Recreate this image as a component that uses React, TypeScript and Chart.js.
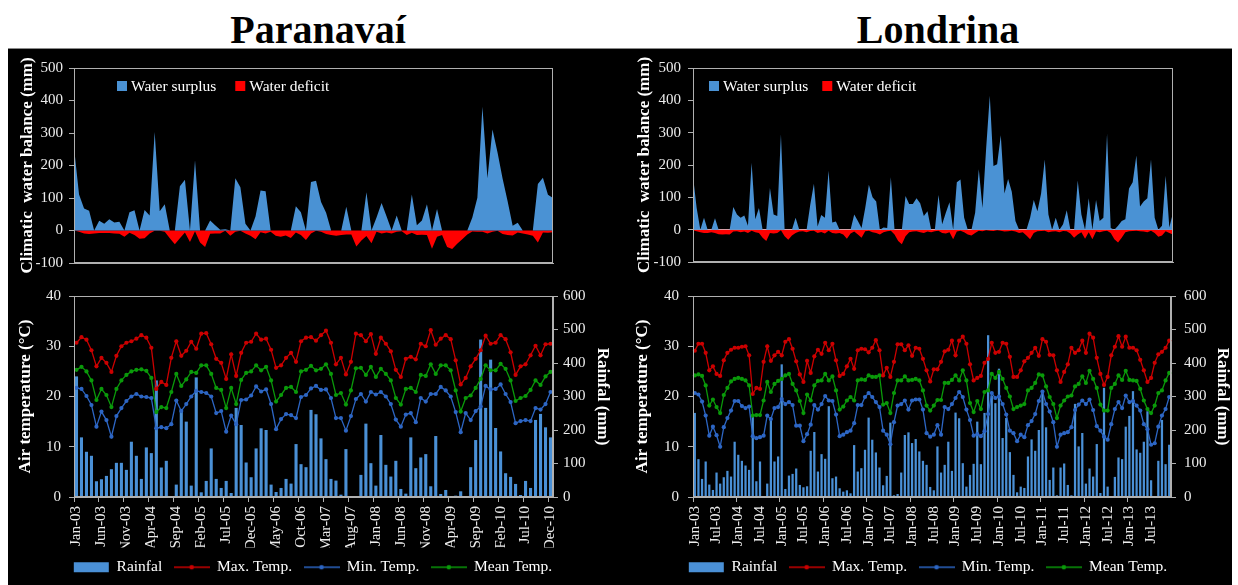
import React, { useEffect, useRef } from 'react';
import { Chart, registerables } from 'chart.js';

Chart.register(...registerables);

const FONT = '"Liberation Serif", "Times New Roman", serif';
Chart.defaults.font.family = FONT;

// ---------- categories ----------
const MONTH_NAMES = ['Jan', 'Feb', 'Mar', 'Apr', 'May', 'Jun', 'Jul', 'Aug', 'Sep', 'Oct', 'Nov', 'Dec'];
const monthSeries = (n: number) =>
  Array.from({ length: n }, (_, i) => `${MONTH_NAMES[i % 12]}-${String(3 + Math.floor(i / 12)).padStart(2, '0')}`);

const PAR_CATEGORIES = monthSeries(96);
const LON_CATEGORIES = monthSeries(132);

const PAR_TICK_LABELS = ['Jan-03', 'Jun-03', 'Nov-03', 'Apr-04', 'Sep-04', 'Feb-05', 'Jul-05', 'Dec-05', 'May-06', 'Oct-06',
  'Mar-07', 'Aug-07', 'Jan-08', 'Jun-08', 'Nov-08', 'Apr-09', 'Sep-09', 'Feb-10', 'Jul-10', 'Dec-10'];
const LON_TICK_LABELS = ['Jan-03', 'Jul-03', 'Jan-04', 'Jul-04', 'Jan-05', 'Jul-05', 'Jan-06', 'Jul-06', 'Jan-07', 'Jul-07',
  'Jan-08', 'Jul-08', 'Jan-09', 'Jul-09', 'Jan-10', 'Jul-10', 'Jan-11', 'Jul-11', 'Jan-12', 'Jul-12', 'Jan-13', 'Jul-13'];

// ---------- Paranavaí ----------
const PAR_SURPLUS = [256, 111, 68, 61, 0, 30, 21, 35, 25, 27, 0, 56,
  62, 0, 63, 46, 303, 59, 81, 0, 0, 136, 156, 0,
  216, 0, 0, 31, 16, 2, 4, 0, 161, 133, 21, 0,
  43, 123, 121, 0, 0, 0, 0, 0, 75, 56, 0, 149,
  153, 88, 55, 0, 0, 0, 73, 0, 0, 0, 118, 0,
  40, 85, 43, 0, 46, 0, 0, 111, 16, 31, 81, 0,
  66, 0, 0, 0, 0, 0, 0, 40, 101, 381, 161, 311,
  240, 160, 90, 15, 24, 0, 0, 0, 143, 162, 110, 100];
const PAR_DEFICIT = [0, -4, -9, -11, -9, -8, -8, -8, -9, -10, -19, -7,
  -14, -25, -24, -9, -1, -1, -4, -24, -42, -24, -6, -35,
  -2, -37, -51, -10, -9, -9, -1, -16, -4, -1, -9, -16,
  -27, -5, -9, -4, -16, -19, -15, -23, -6, -14, -29, -9,
  -1, -4, -11, -14, -16, -14, -12, -12, -49, -31, -17, -39,
  -4, -9, -6, -9, -4, -2, -14, -7, -14, -13, -14, -56,
  -19, -14, -51, -57, -41, -27, -12, -3, -4, -4, -9, -4,
  -1, -11, -14, -15, -6, -9, -12, -16, -37, -6, -7, -5];
const PAR_RAIN = [360, 178, 135, 123, 47, 53, 63, 83, 102, 102, 81, 165,
  123, 54, 148, 131, 348, 88, 108, 1, 37, 263, 225, 34,
  357, 14, 48, 145, 54, 27, 48, 12, 266, 215, 103, 59,
  145, 205, 200, 37, 15, 27, 54, 40, 158, 98, 89, 260,
  247, 175, 113, 54, 49, 7, 143, 0, 0, 66, 219, 101,
  34, 185, 96, 61, 108, 24, 10, 178, 86, 118, 128, 32,
  182, 9, 21, 3, 4, 17, 2, 89, 170, 470, 266, 410,
  206, 136, 71, 60, 39, 6, 48, 27, 230, 248, 208, 178];
const PAR_TMAX = [30.7, 31.8, 31.3, 29.2, 26.0, 27.7, 26.7, 24.9, 28.1, 30.0, 30.7, 31.0,
  31.5, 32.2, 31.7, 29.7, 21.5, 22.9, 22.3, 27.7, 31.0, 28.1, 29.1, 30.9,
  29.5, 32.5, 32.6, 30.4, 27.5, 26.7, 23.5, 28.4, 24.1, 28.7, 30.7, 30.9,
  32.5, 31.3, 31.5, 29.3, 25.7, 26.2, 27.7, 28.7, 26.9, 31.0, 31.7, 31.8,
  31.1, 32.2, 33.1, 30.7, 26.4, 27.7, 24.4, 26.9, 32.5, 32.2, 31.0, 32.4,
  28.5, 31.7, 30.5, 29.0, 25.3, 23.9, 27.5, 27.9, 27.4, 30.5, 30.0, 33.2,
  30.3, 31.5, 32.2, 31.4, 27.2, 22.4, 23.7, 26.0, 27.5, 29.2, 32.1, 30.5,
  30.7, 32.2, 31.4, 28.8, 24.3, 26.0, 26.4, 28.2, 30.1, 28.2, 30.4, 30.5];
const PAR_TMIN = [21.7, 21.5, 20.1, 18.3, 14.0, 17.0, 15.3, 12.0, 16.1, 17.7, 19.1, 20.0,
  20.5, 20.0, 19.9, 19.7, 13.7, 13.9, 13.7, 14.5, 19.2, 17.1, 18.5, 20.0,
  21.1, 20.9, 20.7, 20.0, 16.7, 17.1, 13.0, 16.2, 14.5, 19.3, 19.4, 20.2,
  22.0, 21.0, 21.4, 18.5, 13.5, 15.5, 16.5, 16.3, 15.7, 19.9, 20.3, 21.6,
  22.1, 21.3, 21.4, 19.7, 15.7, 15.7, 13.2, 16.1, 19.5, 20.5, 19.0, 20.9,
  20.4, 20.9, 20.0, 18.5, 15.4, 14.0, 16.4, 16.7, 14.9, 19.7, 19.0, 20.5,
  20.5, 21.9, 21.2, 20.0, 16.9, 12.9, 16.7, 15.3, 17.1, 18.0, 22.1, 21.4,
  21.5, 22.4, 20.5, 18.9, 14.7, 15.1, 15.3, 15.1, 17.7, 17.4, 18.5, 20.9];
const PAR_TMEAN = [25.3, 25.9, 25.0, 23.2, 19.3, 21.5, 20.3, 17.9, 21.5, 23.2, 24.3, 25.0,
  25.3, 25.4, 25.1, 23.7, 16.9, 17.9, 17.7, 20.9, 24.5, 22.1, 23.4, 24.9,
  24.7, 26.2, 26.2, 24.5, 21.7, 21.3, 17.7, 21.7, 18.5, 23.3, 24.7, 25.0,
  26.2, 25.2, 25.9, 23.2, 19.0, 20.3, 21.7, 21.9, 20.9, 25.0, 25.3, 26.1,
  25.2, 25.5, 26.4, 24.5, 20.3, 20.7, 18.4, 21.2, 25.6, 25.7, 24.3, 25.9,
  23.9, 25.5, 24.5, 23.2, 19.7, 18.4, 21.5, 21.7, 20.9, 24.3, 24.1, 26.4,
  24.5, 26.2, 26.2, 25.2, 21.2, 17.0, 19.7, 20.2, 21.7, 23.5, 26.2, 25.2,
  25.2, 26.5, 25.5, 23.2, 19.1, 19.7, 20.1, 21.3, 23.2, 22.3, 24.0, 24.9];

// ---------- Londrina ----------
const LON_SURPLUS = [165, 67, 0, 37, 0, 0, 35, 0, 0, 0, 0, 70,
  47, 37, 44, 12, 207, 32, 67, 0, 0, 129, 47, 42,
  295, 0, 0, 0, 37, 0, 0, 0, 77, 142, 10, 45,
  37, 182, 22, 25, 0, 0, 0, 0, 47, 27, 5, 67,
  139, 100, 87, 0, 7, 5, 162, 0, 0, 0, 104, 79,
  79, 97, 82, 42, 57, 0, 0, 107, 17, 52, 85, 0,
  147, 155, 37, 0, 0, 52, 187, 67, 250, 414, 197, 202,
  292, 112, 157, 117, 27, 0, 0, 0, 37, 92, 57, 112,
  217, 47, 0, 37, 0, 17, 60, 0, 0, 152, 47, 0,
  97, 0, 92, 27, 37, 297, 5, 0, 12, 27, 32, 127,
  147, 229, 72, 87, 97, 217, 37, 0, 12, 167, 7, 52];
const LON_DEFICIT = [-2, -5, -8, -10, -10, -8, -10, -14, -15, -14, -15, -6,
  -5, -8, -6, -10, -3, -8, -10, -25, -35, -10, -12, -10,
  -2, -20, -31, -18, -10, -6, -5, -8, -4, -3, -10, -7,
  -12, -3, -10, -12, -10, -15, -28, -12, -6, -15, -25, -5,
  -3, -8, -10, -15, -8, -5, -3, -15, -35, -45, -20, -8,
  -6, -5, -8, -10, -6, -8, -5, -3, -10, -12, -8, -30,
  -6, -3, -8, -15, -18, -10, -3, -5, -2, -3, -4, -2,
  -3, -6, -5, -3, -6, -10, -8, -18, -30, -10, -5, -4,
  -3, -8, -6, -5, -8, -4, -5, -12, -25, -15, -8, -28,
  -8, -30, -6, -8, -5, -3, -10, -30, -40, -25, -8, -5,
  -4, -3, -5, -6, -8, -3, -10, -22, -18, -5, -10, -15];
const LON_RAIN = [251, 113, 54, 106, 37, 21, 73, 40, 59, 78, 61, 165,
  126, 108, 94, 81, 243, 47, 106, 0, 40, 239, 106, 121,
  396, 24, 64, 69, 85, 36, 29, 32, 138, 194, 76, 128,
  114, 271, 56, 61, 26, 16, 20, 11, 155, 76, 86, 141,
  237, 171, 133, 88, 35, 63, 222, 5, 9, 73, 185, 193,
  161, 173, 136, 108, 96, 30, 20, 151, 73, 96, 165, 78,
  252, 235, 101, 31, 66, 99, 225, 98, 251, 483, 303, 280,
  383, 176, 236, 134, 66, 14, 31, 27, 121, 172, 138, 200,
  316, 208, 51, 88, 5, 88, 100, 36, 5, 278, 151, 191,
  40, 85, 61, 158, 12, 326, 31, 1, 60, 118, 113, 210,
  242, 316, 142, 132, 165, 256, 50, 1, 108, 230, 98, 156];
const LON_TMAX = [29.1, 30.5, 30.5, 28.7, 25.2, 26.0, 24.5, 24.1, 27.2, 28.7, 29.3, 29.7,
  29.7, 29.9, 30.0, 28.2, 20.5, 21.7, 21.5, 26.9, 30.0, 27.1, 28.2, 28.9,
  28.2, 30.9, 31.4, 29.5, 27.0, 24.4, 22.9, 27.1, 24.7, 28.0, 29.3, 28.5,
  30.7, 29.2, 30.5, 27.2, 24.1, 24.5, 26.0, 27.5, 25.5, 29.2, 29.5, 29.4,
  28.8, 29.7, 31.2, 29.2, 24.2, 25.7, 23.9, 26.9, 30.4, 30.4, 29.2, 30.2,
  28.1, 29.7, 29.5, 27.5, 25.2, 23.0, 25.4, 25.4, 26.9, 29.0, 29.3, 31.1,
  28.2, 31.1, 31.9, 30.5, 26.4, 23.2, 23.7, 24.1, 26.7, 27.5, 30.7, 28.7,
  28.9, 30.7, 30.5, 27.9, 23.9, 23.9, 25.2, 27.0, 27.7, 28.7, 29.7, 28.1,
  31.4, 30.9, 28.3, 28.2, 25.2, 22.9, 24.9, 26.4, 29.7, 28.7, 29.2, 31.1,
  28.7, 32.5, 31.7, 27.7, 24.5, 22.3, 23.9, 28.2, 29.9, 32.0, 29.9, 31.9,
  29.7, 29.7, 29.2, 27.3, 25.2, 22.9, 23.7, 26.7, 28.4, 28.9, 29.7, 31.1];
const LON_TMIN = [20.7, 20.4, 19.0, 16.2, 12.2, 14.0, 12.3, 10.0, 13.9, 15.7, 17.2, 19.1,
  19.1, 18.1, 17.7, 18.0, 12.1, 11.7, 11.9, 12.2, 16.2, 15.5, 17.7, 17.9,
  19.5, 18.5, 18.9, 18.3, 14.2, 14.2, 11.1, 12.5, 14.4, 18.3, 17.4, 18.5,
  20.1, 19.2, 19.1, 16.4, 12.1, 12.4, 12.9, 13.2, 14.7, 18.3, 18.3, 19.9,
  20.7, 19.9, 18.9, 17.9, 13.2, 12.4, 10.5, 14.9, 18.2, 18.5, 19.2, 17.4,
  19.2, 19.4, 19.4, 17.4, 12.7, 12.0, 12.4, 14.3, 12.4, 17.9, 17.5, 18.5,
  19.7, 20.9, 19.9, 17.4, 15.3, 12.2, 12.5, 12.1, 13.1, 16.5, 20.7, 19.7,
  20.0, 18.5, 16.4, 13.2, 12.7, 11.1, 12.4, 11.9, 14.3, 15.1, 16.5, 19.1,
  21.0, 18.5, 17.0, 14.9, 10.0, 12.4, 12.7, 12.9, 13.9, 17.3, 18.4, 19.2,
  18.5, 19.4, 17.3, 14.1, 13.2, 12.0, 11.4, 14.5, 17.5, 18.9, 17.7, 20.2,
  18.9, 19.1, 18.2, 17.2, 14.5, 13.5, 10.4, 10.7, 14.0, 16.2, 17.5, 19.9];
const LON_TMEAN = [24.2, 24.4, 24.1, 22.2, 18.2, 19.4, 17.9, 16.7, 20.3, 21.7, 23.0, 23.5,
  23.7, 23.5, 23.2, 22.2, 16.2, 16.3, 16.3, 19.2, 22.9, 20.9, 22.5, 23.1,
  23.5, 24.2, 24.5, 22.5, 21.2, 19.1, 16.7, 20.4, 19.2, 22.2, 23.1, 23.2,
  24.5, 23.2, 24.0, 21.2, 17.4, 18.0, 19.2, 19.9, 19.2, 23.2, 23.4, 23.3,
  24.2, 23.9, 23.9, 24.2, 18.4, 18.7, 16.7, 20.7, 23.2, 23.2, 24.0, 23.2,
  23.3, 23.5, 23.2, 21.2, 18.2, 17.2, 18.2, 19.3, 19.3, 22.7, 22.7, 23.3,
  24.2, 23.2, 25.2, 23.2, 18.7, 16.9, 19.1, 17.5, 20.9, 21.2, 24.5, 23.7,
  24.9, 23.5, 21.7, 20.0, 17.5, 17.9, 18.2, 18.5, 21.2, 21.7, 22.7, 24.4,
  24.2, 22.0, 19.9, 18.5, 15.7, 18.2, 19.2, 20.0, 20.2, 22.0, 22.5, 24.0,
  22.7, 25.1, 23.5, 21.7, 18.4, 17.2, 17.2, 21.7, 22.5, 24.2, 23.3, 25.1,
  23.3, 23.2, 23.1, 21.5, 19.2, 17.5, 16.7, 18.2, 20.7, 21.2, 23.2, 24.7];

// ---------- styles ----------
const AXIS = '#b0b0b0';
const TICK_COLOR = '#ececec';
const TITLE_COLOR = '#ffffff';
const SURPLUS_BLUE = '#4a92d4';
const DEFICIT_RED = '#ff0000';
const BAR_BLUE = '#4a90d6';
const MAX_RED = '#cc0000';
const MIN_BLUE = '#2d66c4';
const MEAN_GREEN = '#0a9a0a';

// legend sample: a short line with a marker in the middle
function lineMarkerSample(color: string) {
  const c = document.createElement('canvas');
  c.width = 36;
  c.height = 8;
  const g = c.getContext('2d');
  if (g) {
    g.strokeStyle = color;
    g.lineWidth = 1.4;
    g.beginPath();
    g.moveTo(0, 4);
    g.lineTo(36, 4);
    g.stroke();
    g.fillStyle = color;
    g.beginPath();
    g.arc(18, 4, 2.3, 0, Math.PI * 2);
    g.fill();
  }
  return c;
}

const framePlugin = {
  id: 'frame',
  afterDatasetsDraw(chart: any) {
    const { ctx, chartArea } = chart;
    const l = Math.round(chartArea.left) + 0.5;
    const t = Math.round(chartArea.top) + 0.5;
    const r = Math.round(chartArea.right) - 0.5;
    const b = Math.round(chartArea.bottom) - 0.5;
    ctx.save();
    ctx.strokeStyle = AXIS;
    ctx.lineWidth = 1;
    ctx.strokeRect(l, t, r - l, b - t);
    ctx.restore();
  },
};

const insideLegendPlugin = {
  id: 'insideLegend',
  afterDraw(chart: any, _args: any, o: any) {
    if (!o || !o.display) return;
    const { ctx, chartArea } = chart;
    ctx.save();
    ctx.font = o.font;
    ctx.textBaseline = 'middle';
    ctx.textAlign = 'left';
    let x = chartArea.left + o.offsetX;
    const y = chartArea.top + o.offsetY;
    chart.data.datasets.forEach((ds: any) => {
      ctx.fillStyle = ds.backgroundColor;
      ctx.fillRect(x, y - o.box / 2, o.box, o.box);
      x += o.box + o.textGap;
      ctx.fillStyle = o.color;
      ctx.fillText(ds.label, x, y + 1);
      x += ctx.measureText(ds.label).width + o.itemGap;
    });
    ctx.restore();
  },
};

function topConfig(p: {
  categories: string[]; surplus: number[]; deficit: number[]; leftWidth: number; padRight: number;
  titlePad: number; tickPad: number; legendX: number; legendGap: number; zeroLine: boolean;
}) {
  return {
    type: 'line',
    data: {
      labels: p.categories,
      datasets: [
        { label: 'Water surplus', data: p.surplus, fill: 'origin', backgroundColor: SURPLUS_BLUE, borderWidth: 0, pointRadius: 0, tension: 0 },
        { label: 'Water deficit', data: p.deficit, fill: 'origin', backgroundColor: DEFICIT_RED, borderWidth: 0, pointRadius: 0, tension: 0 },
      ],
    },
    options: {
      responsive: false,
      animation: false,
      events: [],
      layout: { padding: { top: 20, bottom: 10, left: 0, right: p.padRight } },
      plugins: {
        legend: { display: false },
        tooltip: { enabled: false },
        insideLegend: {
          display: true, font: `15.5px ${FONT}`, color: '#ffffff', offsetX: p.legendX, offsetY: 18,
          box: 10, textGap: 4, itemGap: p.legendGap,
        },
      },
      scales: {
        x: {
          type: 'category', offset: false,
          ticks: { display: false },
          grid: { display: false },
          border: { display: true, color: AXIS },
          afterFit: (s: any) => { s.height = 0; },
        },
        y: {
          min: -100, max: 500,
          ticks: { stepSize: 100, color: TICK_COLOR, font: { size: 15 }, padding: p.tickPad },
          grid: {
            drawOnChartArea: p.zeroLine, drawTicks: true, tickLength: 5, tickColor: AXIS,
            color: (c: any) => (c.tick && c.tick.value === 0 ? '#c9d4de' : 'rgba(0,0,0,0)'),
          },
          border: { color: AXIS },
          title: {
            display: true, text: 'Climatic  water balance (mm)', color: TITLE_COLOR,
            font: { size: 17, weight: 'bold' }, padding: { top: p.titlePad, bottom: 0 },
          },
          afterFit: (s: any) => { s.width = p.leftWidth; },
        },
      },
    },
    plugins: [framePlugin, insideLegendPlugin],
  };
}

function bottomConfig(p: {
  categories: string[]; tickLabels: string[]; tickEvery: number; rain: number[]; tmax: number[]; tmin: number[]; tmean: number[];
  leftWidth: number; rightWidth: number; leftTitlePad: number; rightTitlePad: number; leftTickPad: number; rightTickPad: number;
}) {
  const lineDs = (label: string, data: number[], color: string) => ({
    type: 'line', label, data, yAxisID: 'yL', borderColor: color, backgroundColor: color,
    borderWidth: 1.3, pointRadius: 2.1, pointBorderWidth: 0, pointBackgroundColor: color, tension: 0, order: 1,
  });
  return {
    type: 'bar',
    data: {
      labels: p.categories,
      datasets: [
        { type: 'bar', label: 'Rainfal', data: p.rain, yAxisID: 'yR', backgroundColor: BAR_BLUE, borderWidth: 0,
          barPercentage: 0.62, categoryPercentage: 1, order: 2 },
        lineDs('Max. Temp.', p.tmax, MAX_RED),
        lineDs('Min. Temp.', p.tmin, MIN_BLUE),
        lineDs('Mean Temp.', p.tmean, MEAN_GREEN),
      ],
    },
    options: {
      responsive: false,
      animation: false,
      events: [],
      layout: { padding: { top: 18, bottom: 0, left: 0, right: 0 } },
      plugins: {
        tooltip: { enabled: false },
        legend: {
          display: true, position: 'bottom', align: 'center',
          labels: {
            usePointStyle: true, pointStyleWidth: 35, boxHeight: 10, color: '#ffffff',
            font: { size: 15.5 }, padding: 12,
            sort: (a: any, b: any) => a.datasetIndex - b.datasetIndex,
            generateLabels: (chart: any) => {
              const base = (Chart.defaults.plugins.legend.labels as any).generateLabels(chart);
              return base.map((it: any) => {
                const ds = chart.data.datasets[it.datasetIndex];
                if (ds.type === 'bar') {
                  return { ...it, pointStyle: 'rect', fillStyle: ds.backgroundColor, strokeStyle: ds.backgroundColor, lineWidth: 0, fontColor: '#ffffff' };
                }
                return { ...it, pointStyle: lineMarkerSample(ds.borderColor), strokeStyle: ds.borderColor, fillStyle: ds.borderColor, lineWidth: 1.4, fontColor: '#ffffff' };
              });
            },
          },
        },
      },
      scales: {
        x: {
          type: 'category', offset: true,
          grid: {
            display: true, drawOnChartArea: false, drawTicks: true, tickLength: 5, offset: true,
            color: (c: any) => (typeof c.index === 'number' && c.index % p.tickEvery === 0 ? AXIS : 'rgba(0,0,0,0)'),
          },
          border: { display: true, color: AXIS },
          ticks: {
            autoSkip: false, maxRotation: 90, minRotation: 90, color: TICK_COLOR, font: { size: 15 }, padding: 4,
            callback: (_v: any, i: number) => (p.tickLabels.includes(p.categories[i]) ? p.categories[i] : ''),
          },
          afterFit: (s: any) => { s.height = 50.5; },
        },
        yL: {
          position: 'left', min: 0, max: 40,
          ticks: { stepSize: 10, color: TICK_COLOR, font: { size: 15 }, padding: p.leftTickPad },
          grid: { drawOnChartArea: false, drawTicks: true, tickLength: 5, tickColor: AXIS, color: AXIS },
          border: { color: AXIS },
          title: {
            display: true, text: 'Air temperature (°C)', color: TITLE_COLOR,
            font: { size: 17, weight: 'bold' }, padding: { top: p.leftTitlePad, bottom: 0 },
          },
          afterFit: (s: any) => { s.width = p.leftWidth; },
        },
        yR: {
          position: 'right', min: 0, max: 600,
          ticks: { stepSize: 100, color: TICK_COLOR, font: { size: 15 }, padding: p.rightTickPad },
          grid: { drawOnChartArea: false, drawTicks: true, tickLength: 5, tickColor: AXIS, color: AXIS },
          border: { color: AXIS },
          title: {
            display: true, text: 'Rainfal (mm)', color: TITLE_COLOR,
            font: { size: 17, weight: 'bold' }, padding: { top: p.rightTitlePad, bottom: 0 },
          },
          afterFit: (s: any) => { s.width = p.rightWidth; },
        },
      },
    },
    plugins: [framePlugin],
  };
}

function ChartCanvas(props: { left: number; top: number; width: number; height: number; make: () => any }) {
  const ref = useRef<HTMLCanvasElement | null>(null);
  useEffect(() => {
    if (!ref.current) return;
    const chart = new Chart(ref.current, props.make());
    return () => chart.destroy();
  }, []);
  return (
    <canvas
      ref={ref}
      width={props.width}
      height={props.height}
      style={{ position: 'absolute', left: props.left, top: props.top, width: props.width, height: props.height }}
    />
  );
}

const titleStyle = (left: number, width: number): React.CSSProperties => ({
  position: 'absolute', left, top: 10, width, textAlign: 'center', color: '#000',
  font: `bold 40px/40px ${FONT}`, whiteSpace: 'nowrap',
});

export default function App() {
  return (
    <div style={{ position: 'fixed', left: 0, top: 0, width: 1238, height: 585, background: '#ffffff', overflow: 'hidden' }}>
      <div style={{ position: 'absolute', left: 8, top: 48, width: 1224, height: 537, background: '#000000', borderTop: '1px solid #8a8a8a', boxSizing: 'border-box' }} />
      <div style={titleStyle(168, 300)}>Paranavaí</div>
      <div style={titleStyle(788, 300)}>Londrina</div>

      <ChartCanvas left={8} top={48} width={610} height={230} make={() => topConfig({
        categories: PAR_CATEGORIES, surplus: PAR_SURPLUS, deficit: PAR_DEFICIT, leftWidth: 66, padRight: 65,
        titlePad: 9, tickPad: 6, legendX: 43, legendGap: 19, zeroLine: false,
      })} />
      <ChartCanvas left={8} top={278} width={610} height={307} make={() => bottomConfig({
        categories: PAR_CATEGORIES, tickLabels: PAR_TICK_LABELS, tickEvery: 5, rain: PAR_RAIN, tmax: PAR_TMAX, tmin: PAR_TMIN, tmean: PAR_TMEAN,
        leftWidth: 66, rightWidth: 65, leftTitlePad: 7, rightTitlePad: 5, leftTickPad: 8, rightTickPad: 5,
      })} />

      <ChartCanvas left={618} top={48} width={620} height={230} make={() => topConfig({
        categories: LON_CATEGORIES, surplus: LON_SURPLUS, deficit: LON_DEFICIT, leftWidth: 75, padRight: 65,
        titlePad: 16, tickPad: 7, legendX: 16, legendGap: 14, zeroLine: true,
      })} />
      <ChartCanvas left={618} top={278} width={620} height={307} make={() => bottomConfig({
        categories: LON_CATEGORIES, tickLabels: LON_TICK_LABELS, tickEvery: 12, rain: LON_RAIN, tmax: LON_TMAX, tmin: LON_TMIN, tmean: LON_TMEAN,
        leftWidth: 75, rightWidth: 67, leftTitlePad: 14, rightTitlePad: 5, leftTickPad: 9, rightTickPad: 8,
      })} />
    </div>
  );
}
